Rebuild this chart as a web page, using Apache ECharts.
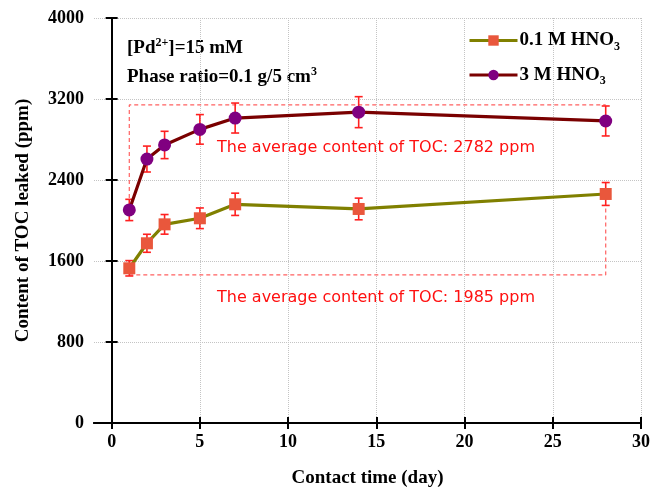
<!DOCTYPE html>
<html>
<head>
<meta charset="utf-8">
<script src="https://cdn.jsdelivr.net/npm/echarts@6/dist/echarts.min.js"></script>
<style>
  html, body { margin: 0; padding: 0; background: #fff; }
  #chart { width: 654px; height: 487px; }
</style>
</head>
<body>
<div id="chart"></div>
<script>
    // values
    var days = [1, 2, 3, 5, 7, 14, 28];
    var toc01 = [1528, 1775, 1962, 2022, 2160, 2114, 2262];
    var err01 = [76, 89, 97, 102, 110, 107, 113];
    var toc3 = [2104, 2607, 2746, 2900, 3012, 3070, 2983];
    var err3 = [105, 128, 135, 146, 148, 153, 148];
    var xTicks = [0, 5, 10, 15, 20, 25, 30];
    // dashed guide boxes around the averages
    var box3 = [[1, 2222], [1, 3141], [28, 3141]];
    var box01 = [[1, 1462], [28, 1462], [28, 2143]];

    var serif = 'Liberation Serif';
    var chart = echarts.init(document.getElementById('chart'));

    function pairs(xs, ys, es) {
        return xs.map(function (x, i) { return [x, ys[i], es[i]]; });
    }

    function errorBar(params, api) {
        var x = api.value(0), y = api.value(1), e = api.value(2);
        var top = api.coord([x, y + e]);
        var bot = api.coord([x, y - e]);
        var w = 4;
        var style = { stroke: '#ff2020', lineWidth: 1.6 };
        return {
            type: 'group',
            children: [
                { type: 'line', shape: { x1: top[0], y1: top[1], x2: bot[0], y2: bot[1] }, style: style },
                { type: 'line', shape: { x1: top[0] - w, y1: top[1], x2: top[0] + w, y2: top[1] }, style: style },
                { type: 'line', shape: { x1: bot[0] - w, y1: bot[1], x2: bot[0] + w, y2: bot[1] }, style: style }
            ]
        };
    }

    var axisLine = { show: true, lineStyle: { color: '#000', width: 2 } };
    var tickStyle = { width: 2, color: '#000' };
    var grid = { show: true, lineStyle: { type: 'dotted', color: '#c4c4c4', width: 1 } };
    var labelFont = { fontFamily: serif, fontWeight: 'bold', fontSize: 18, color: '#000' };
    var nameFont = { fontFamily: serif, fontWeight: 'bold', fontSize: 19, color: '#000' };
    var supRich = { sup: { fontFamily: serif, fontWeight: 'bold', fontSize: 12, padding: [0, 0, 10, 0] } };

    var option = {
        animation: false,
        backgroundColor: '#fff',
        grid: { left: 94, right: 13, top: 18, bottom: 64, outerBoundsMode: 'none' },
        legend: {
            orient: 'vertical',
            left: 463,
            top: 26,
            itemGap: 13,
            itemWidth: 48,
            itemHeight: 13,
            lineStyle: { width: 3 },
            data: ['0.1 M HNO3', '3 M HNO3'],
            formatter: function (name) {
                return name.replace('HNO3', 'HNO{sub|3}');
            },
            textStyle: {
                fontFamily: serif, fontWeight: 'bold', fontSize: 19, color: '#000', padding: [0, 0, 0, -3],
                rich: { sub: { fontFamily: serif, fontWeight: 'bold', fontSize: 12, padding: [12, 0, 0, 0] } }
            }
        },
        xAxis: [{
            type: 'value', min: -1, max: 30, position: 'bottom',
            name: 'Contact time (day)', nameLocation: 'middle', nameGap: 46,
            nameTextStyle: nameFont,
            axisLine: axisLine,
            axisTick: { inside: true, length: 6, lineStyle: tickStyle, customValues: xTicks },
            axisLabel: Object.assign({ margin: 10, customValues: xTicks }, labelFont),
            splitLine: grid
        }, {
            type: 'value', min: -1, max: 30, position: 'top',
            axisLine: axisLine,
            axisTick: { inside: true, length: 6, lineStyle: tickStyle, customValues: xTicks },
            axisLabel: { show: false },
            splitLine: { show: false }
        }],
        yAxis: [{
            type: 'value', min: 0, max: 4000, interval: 800, position: 'left',
            name: 'Content of TOC leaked (ppm)', nameLocation: 'middle', nameGap: 61,
            nameTextStyle: nameFont,
            axisLine: axisLine,
            axisTick: { inside: true, length: 6, lineStyle: tickStyle },
            axisLabel: Object.assign({ margin: 10, formatter: function (v) { return String(v); } }, labelFont),
            splitLine: grid
        }, {
            type: 'value', min: 0, max: 4000, interval: 800, position: 'right',
            axisLine: axisLine,
            axisTick: { inside: true, length: 6, lineStyle: tickStyle },
            axisLabel: { show: false },
            splitLine: { show: false }
        }],
        graphic: [{
            type: 'text', left: 127, top: 37,
            style: {
                text: '[Pd{sup|2+}]=15 mM',
                font: 'bold 19px "Liberation Serif"', fill: '#000',
                rich: supRich
            }
        }, {
            type: 'text', left: 127, top: 66,
            style: {
                text: 'Phase ratio=0.1 g/5 cm{sup|3}',
                font: 'bold 19px "Liberation Serif"', fill: '#000',
                rich: supRich
            }
        }, {
            type: 'text', left: 217, top: 140,
            style: { text: 'The average content of TOC: 2782 ppm', font: '16px "DejaVu Sans"', fill: '#ff1010' }
        }, {
            type: 'text', left: 217, top: 290,
            style: { text: 'The average content of TOC: 1985 ppm', font: '16px "DejaVu Sans"', fill: '#ff1010' }
        }],
        series: [{
            name: 'box3', type: 'line', data: box3, symbol: 'none', silent: true, z: 1,
            lineStyle: { color: '#ff6060', width: 1.2, type: [4, 3] }
        }, {
            name: 'box01', type: 'line', data: box01, symbol: 'none', silent: true, z: 1,
            lineStyle: { color: '#ff6060', width: 1.2, type: [4, 3] }
        }, {
            name: '0.1 M HNO3', type: 'line', data: pairs(days, toc01, err01), z: 3,
            symbol: 'rect', symbolSize: 12,
            lineStyle: { color: '#808000', width: 3.2 },
            itemStyle: { color: '#e9573c', borderWidth: 0 }
        }, {
            name: '3 M HNO3', type: 'line', data: pairs(days, toc3, err3), z: 3,
            symbol: 'circle', symbolSize: 13,
            lineStyle: { color: '#7a0000', width: 3.2 },
            itemStyle: { color: '#800080', borderWidth: 0 }
        }, {
            name: 'err01', type: 'custom', data: pairs(days, toc01, err01), renderItem: errorBar, z: 2, silent: true
        }, {
            name: 'err3', type: 'custom', data: pairs(days, toc3, err3), renderItem: errorBar, z: 2, silent: true
        }]
    };

    chart.setOption(option);
</script>
</body>
</html>
